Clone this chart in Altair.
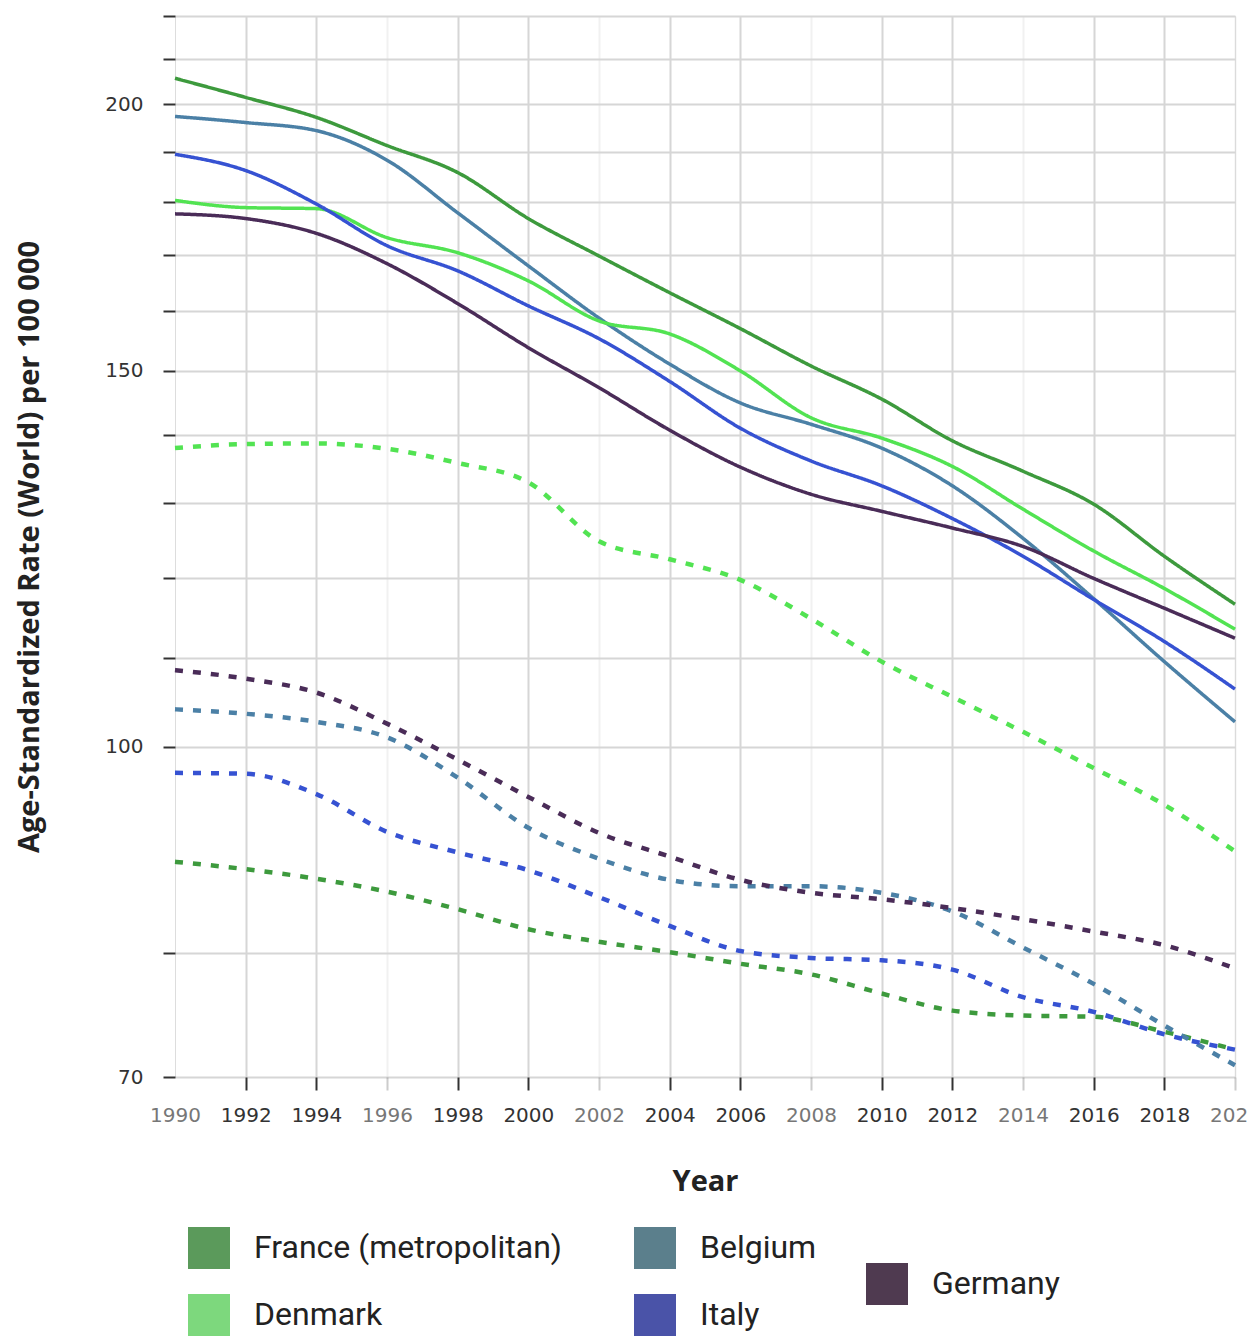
import altair as alt
import pandas as pd

years = [1990, 1992, 1994, 1996, 1998, 2000, 2002, 2004, 2006, 2008, 2010, 2012, 2014, 2016, 2018, 2020]

countries_a = ["France (metropolitan)", "Belgium", "Denmark", "Italy"]
line_colors_a = ["#3d9a3d", "#4b80a6", "#52e352", "#3652d2"]
legend_colors_a = ["#5b9a5b", "#5b7f8c", "#7dd87d", "#4a53a8"]
countries_b = ["Germany"]
line_colors_b = ["#4a2c58"]
legend_colors_b = ["#4f3a50"]

# solid lines (male)
france_m = [205.7, 201.5, 197.2, 191.3, 185.8, 176.8, 169.8, 163.2, 157.0, 150.8, 145.5, 139.1, 134.6, 129.9, 122.8, 116.6]
belgium_m = [197.4, 196.1, 194.4, 188.3, 177.9, 168.0, 158.8, 151.1, 144.9, 141.6, 138.0, 132.5, 125.2, 117.3, 109.6, 102.7]
germany_m = [177.7, 176.8, 174.0, 168.4, 161.3, 153.8, 147.3, 140.7, 135.2, 131.3, 128.9, 126.6, 124.1, 119.9, 116.1, 112.4]
denmark_m = [180.3, 178.9, 178.7, 173.2, 170.4, 165.3, 158.3, 156.1, 150.0, 142.6, 139.5, 135.3, 129.2, 123.5, 118.6, 113.5]
italy_m = [189.5, 186.2, 179.6, 171.7, 167.1, 160.9, 155.3, 148.3, 141.0, 136.1, 132.5, 127.9, 122.8, 117.2, 112.0, 106.4]

# dashed lines (female)
france_f = [88.3, 87.6, 86.7, 85.5, 83.9, 82.1, 81.0, 80.1, 79.1, 78.2, 76.6, 75.2, 74.8, 74.7, 73.5, 72.1]
belgium_f = [104.1, 103.6, 102.7, 101.0, 96.7, 91.6, 88.6, 86.6, 86.0, 86.0, 85.4, 83.7, 80.5, 77.4, 74.0, 70.9]
germany_f = [108.6, 107.6, 106.0, 102.5, 98.6, 94.7, 91.1, 88.8, 86.6, 85.4, 84.8, 84.0, 83.0, 81.9, 80.7, 78.7]
denmark_f = [138.0, 138.6, 138.7, 137.9, 135.8, 133.0, 124.8, 122.4, 119.7, 114.8, 109.6, 105.5, 101.6, 97.7, 93.9, 89.3]
italy_f = [97.2, 97.1, 95.0, 91.2, 89.2, 87.5, 85.0, 82.4, 80.2, 79.6, 79.4, 78.6, 76.3, 75.1, 73.3, 72.1]

y_tick_values = [70, 80, 100, 110, 120, 130, 140, 150, 160, 170, 180, 190, 200, 210, 220]
y_label_values = [70, 100, 150, 200]
x_tick_values = list(range(1990, 2021, 2))

series = {
    ("France (metropolitan)", "Male"): france_m,
    ("Belgium", "Male"): belgium_m,
    ("Germany", "Male"): germany_m,
    ("Denmark", "Male"): denmark_m,
    ("Italy", "Male"): italy_m,
    ("France (metropolitan)", "Female"): france_f,
    ("Belgium", "Female"): belgium_f,
    ("Germany", "Female"): germany_f,
    ("Denmark", "Female"): denmark_f,
    ("Italy", "Female"): italy_f,
}

rows = []
for (country, sex), vals in series.items():
    for yr, v in zip(years, vals):
        rows.append({"Year": yr, "Rate": v, "Country": country, "Sex": sex, "Series": country + " " + sex})
df = pd.DataFrame(rows)


def fill_expression(names, cols):
    expr = "'" + cols[-1] + "'"
    for c, col in zip(reversed(names[:-1]), reversed(cols[:-1])):
        expr = f"datum.value == '{c}' ? '{col}' : ({expr})"
    return expr


label_test = " || ".join(f"datum.value == {v}" for v in y_label_values)
faint_test = "(datum.value - 1990) % 6 == 0"

legend_common = dict(
    title=None,
    orient="none",
    direction="horizontal",
    symbolType="square",
    symbolSize=1764,
    symbolStrokeWidth=0,
    symbolOpacity=1,
    labelFont="Roboto",
    labelFontSize=32,
    labelColor="#222",
    labelOffset=24,
    labelLimit=500,
    rowPadding=25,
    columnPadding=72,
    padding=0,
)

x_enc = alt.X(
    "Year:Q",
    scale=alt.Scale(domain=[1990, 2020], nice=False, zero=False),
    axis=alt.Axis(
        values=x_tick_values,
        format="d",
        title="Year",
        titleFont="Open Sans",
        titleFontSize=29,
        titleFontWeight="bold",
        titleColor="#222",
        titlePadding=42,
        labelFont="DejaVu Sans",
        labelFontSize=20,
        labelColor={"condition": {"test": faint_test, "value": "#777"}, "value": "#333"},
        labelPadding=15,
        labelFlush=False,
        labelOverlap=False,
        domain=False,
        ticks=True,
        tickSize=13,
        tickWidth=2,
        tickColor={"condition": {"test": "datum.value == 1990", "value": "transparent"}, "value": "#333"},
        tickOpacity={"condition": {"test": faint_test, "value": 0.25}, "value": 1},
        grid=True,
        gridColor={"condition": {"test": "datum.value == 1990", "value": "transparent"}, "value": "#d6d6d6"},
        gridOpacity={"condition": {"test": faint_test, "value": 0.35}, "value": 1},
        gridWidth=2,
    ),
)

y_enc = alt.Y(
    "Rate:Q",
    scale=alt.Scale(type="log", domain=[70, 220], nice=False, zero=False),
    axis=alt.Axis(
        values=y_tick_values,
        labelExpr=f"({label_test}) ? datum.label : ''",
        title="Age-Standardized Rate (World) per 100 000",
        titleFont="Open Sans",
        titleFontSize=29,
        titleFontWeight="bold",
        titleColor="#222",
        titlePadding=60,
        labelFont="DejaVu Sans",
        labelFontSize=20,
        labelColor="#333",
        labelPadding=20,
        domain=False,
        tickSize=12,
        tickWidth=2,
        tickColor="#333",
        grid=True,
        gridColor="#d6d6d6",
        gridWidth=2,
    ),
)

dash_enc = alt.StrokeDash(
    "Sex:N",
    scale=alt.Scale(domain=["Male", "Female"], range=[[1, 0], [8, 10]]),
    legend=None,
)
width_enc = alt.StrokeWidth(
    "Sex:N",
    scale=alt.Scale(domain=["Male", "Female"], range=[3.5, 4.5]),
    legend=None,
)

base = alt.Chart(df).mark_line(interpolate="monotone")

layer_a = base.transform_filter(
    alt.FieldOneOfPredicate(field="Country", oneOf=countries_a)
).encode(
    x=x_enc,
    y=y_enc,
    color=alt.Color(
        "Country:N",
        scale=alt.Scale(domain=countries_a, range=line_colors_a),
        legend=alt.Legend(
            legendX=13,
            legendY=1211,
            columns=2,
            symbolFillColor={"expr": fill_expression(countries_a, legend_colors_a)},
            **legend_common,
        ),
    ),
    strokeDash=dash_enc,
    strokeWidth=width_enc,
    detail="Series:N",
)

layer_b = base.transform_filter(
    alt.FieldOneOfPredicate(field="Country", oneOf=countries_b)
).encode(
    x=x_enc,
    y=y_enc,
    color=alt.Color(
        "Country:N",
        scale=alt.Scale(domain=countries_b, range=line_colors_b),
        legend=alt.Legend(
            legendX=691,
            legendY=1247,
            columns=1,
            symbolFillColor=legend_colors_b[0],
            **legend_common,
        ),
    ),
    strokeDash=dash_enc,
    strokeWidth=width_enc,
    detail="Series:N",
)

chart = alt.layer(layer_a, layer_b).resolve_scale(
    color="independent"
).resolve_legend(
    color="independent"
).properties(
    width=1060,
    height=1061,
    autosize=alt.AutoSizeParams(type="none"),
    padding={"left": 167, "top": 8, "right": 13, "bottom": 259},
).configure_view(strokeWidth=0).configure(background="white")

chart.save("out.html", embed_options={"renderer": "svg", "actions": False})
